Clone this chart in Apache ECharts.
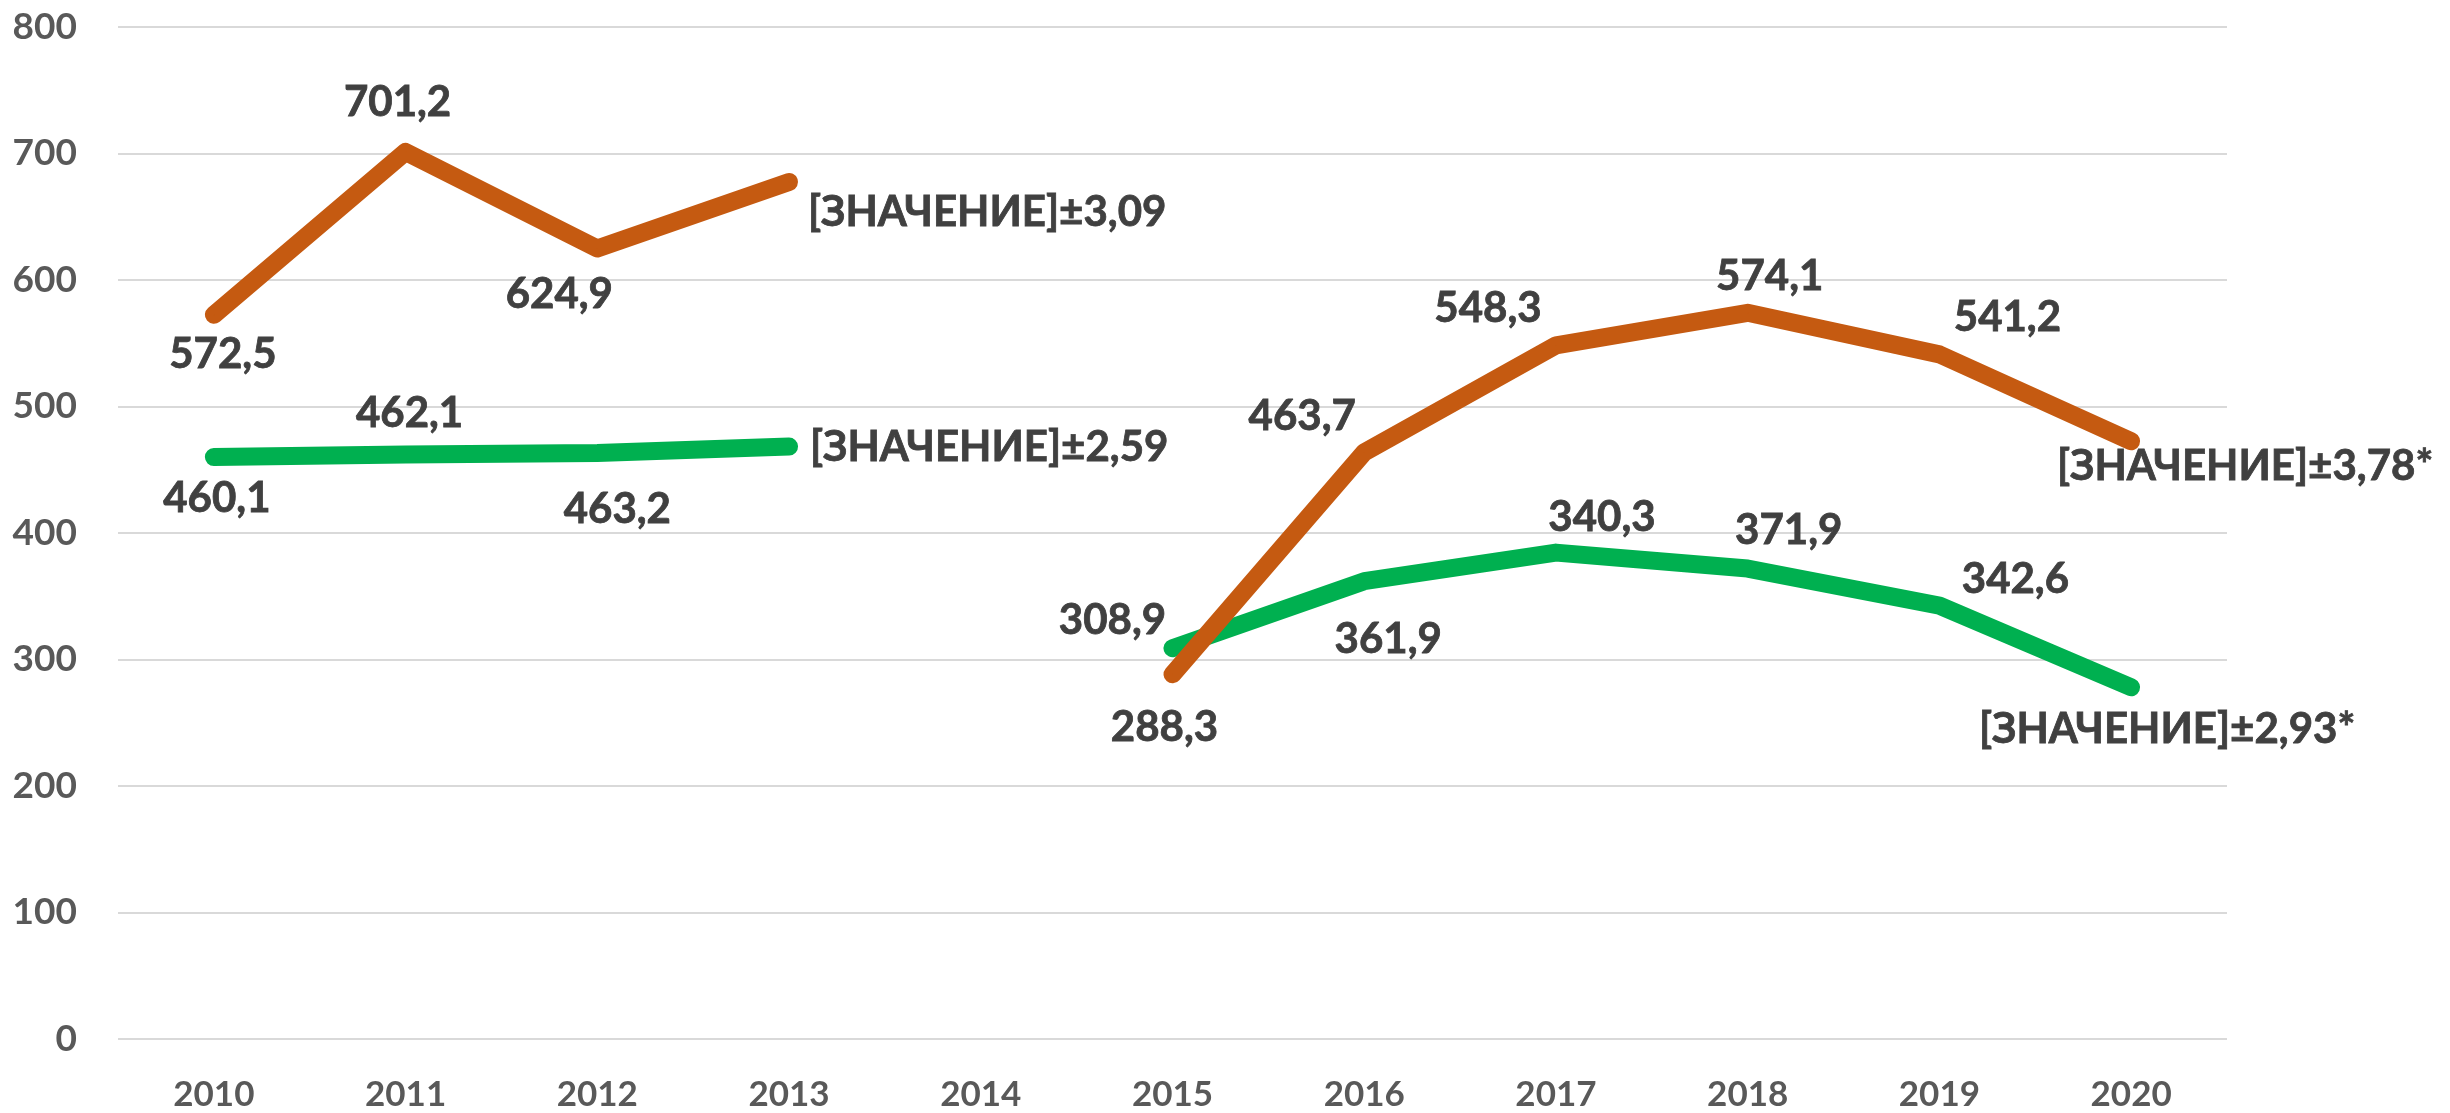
<!DOCTYPE html>
<html>
<head>
<meta charset="utf-8">
<script src="https://cdn.jsdelivr.net/npm/echarts@6/dist/echarts.min.js"></script>
<style>
  html, body { margin: 0; padding: 0; background: #fff; }
  #chart { width: 2450px; height: 1113px; }
</style>
</head>
<body>
<div id="chart"></div>
<script>
// данные
var years = ['2010', '2011', '2012', '2013', '2014', '2015', '2016', '2017', '2018', '2019', '2020'];

var orangeValues = [572.5, 701.2, 624.9, 677.5, null, 288.3, 463.7, 548.3, 574.1, 541.2, 472.5];
var orangeLabels = ['572,5', '701,2', '624,9', '[ЗНАЧЕНИЕ]±3,09', '', '288,3', '463,7', '548,3', '574,1', '541,2', '[ЗНАЧЕНИЕ]±3,78*'];

var greenValues = [460.1, 462.1, 463.2, 468.3, null, 308.9, 361.9, 384.5, 371.9, 342.6, 278];
var greenLabels = ['460,1', '462,1', '463,2', '[ЗНАЧЕНИЕ]±2,59', '', '308,9', '361,9', '340,3', '371,9', '342,6', '[ЗНАЧЕНИЕ]±2,93*'];

var yTicks = [0, 100, 200, 300, 400, 500, 600, 700, 800];

// смещения подписей (как в Excel)
var orangeOffsets = [[9, 40], [-8, -50], [-38, 46], [19, 30, 'left'], null, [-8, 53], [-62, -36], [-68, -37], [22, -36], [68, -37], [114, 25]];
var greenOffsets = [[3, 41], [4, -41], [20, 56], [21, 1, 'left'], null, [-60, -28], [24, 58], [46, -35], [41, -38], [76, -26], [36, 42]];

function buildData(values, labels, offsets) {
    var out = [];
    for (var i = 0; i < values.length; i++) {
        if (values[i] === null) { out.push(null); continue; }
        var o = offsets[i];
        out.push({
            value: values[i],
            label: {
                show: true,
                position: 'inside',
                align: o[2] || 'center',
                verticalAlign: 'middle',
                offset: [o[0], o[1]],
                formatter: labels[i]
            }
        });
    }
    return out;
}

var chart = echarts.init(document.getElementById('chart'));

var labelStyle = {
    color: '#404040',
    fontFamily: 'Lato',
    fontWeight: 'bold',
    fontSize: 42,
    textBorderColor: '#404040',
    textBorderWidth: 0.8
};

chart.setOption({
    animation: false,
    grid: { left: 118, right: 223, top: 27, bottom: 74, containLabel: false },
    xAxis: {
        type: 'category',
        data: years,
        boundaryGap: true,
        axisLine: { show: false },
        axisTick: { show: false },
        axisLabel: { color: '#595959', fontFamily: 'Lato', fontWeight: 'bold', fontSize: 35, margin: 38 }
    },
    yAxis: {
        type: 'value',
        min: yTicks[0],
        max: yTicks[yTicks.length - 1],
        interval: 100,
        axisLine: { show: false },
        axisTick: { show: false },
        axisLabel: { color: '#595959', fontFamily: 'Lato', fontWeight: 'bold', fontSize: 37, margin: 41 },
        splitLine: { lineStyle: { color: '#d9d9d9', width: 2 } }
    },
    series: [
        {
            type: 'line',
            data: buildData(orangeValues, orangeLabels, orangeOffsets),
            connectNulls: false,
            symbol: 'circle',
            symbolSize: 1,
            itemStyle: { color: '#C55A11' },
            lineStyle: { color: '#C55A11', width: 18, cap: 'round', join: 'round' },
            label: labelStyle,
            z: 2
        },
        {
            type: 'line',
            data: buildData(greenValues, greenLabels, greenOffsets),
            connectNulls: false,
            symbol: 'circle',
            symbolSize: 1,
            itemStyle: { color: '#00B050' },
            lineStyle: { color: '#00B050', width: 18, cap: 'round', join: 'round' },
            label: labelStyle,
            z: 1
        }
    ]
});
</script>
</body>
</html>
